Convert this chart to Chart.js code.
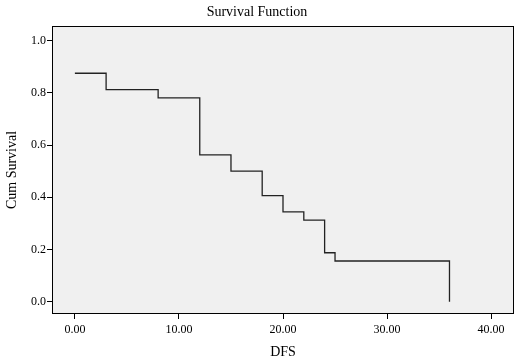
<!DOCTYPE html>
<html>
<head>
<meta charset="utf-8">
<script src="https://cdn.jsdelivr.net/npm/chart.js@4.4.1/dist/chart.umd.min.js"></script>
<style>
  html, body { margin: 0; padding: 0; background: #fff; }
  canvas { display: block; }
</style>
</head>
<body>
<canvas id="survivalChart" width="519" height="361"></canvas>
<script>
// Kaplan-Meier steps
const dfsTimes = [0, 3, 8, 12, 15, 18, 20, 22, 24, 25, 36];
const cumSurvival = [0.875, 0.8125, 0.781, 0.5625, 0.50, 0.406, 0.344, 0.3125, 0.1875, 0.156, 0.0];
const xTicks = [0, 10, 20, 30, 40];
const yTicks = [0, 0.2, 0.4, 0.6, 0.8, 1.0];

const serif = 'Liberation Serif';

// grey plot area and its frame
const plotFrame = {
  id: 'plotFrame',
  beforeDatasetsDraw(chart) {
    const { ctx, chartArea: a } = chart;
    ctx.save();
    ctx.fillStyle = '#f0f0f0';
    ctx.fillRect(a.left, a.top, a.right - a.left, a.bottom - a.top);
    ctx.restore();
  },
  afterDraw(chart) {
    const { ctx, chartArea: a } = chart;
    ctx.save();
    ctx.strokeStyle = '#000';
    ctx.lineWidth = 1;
    ctx.strokeRect(a.left + 0.5, a.top + 0.5, a.right - a.left - 1, a.bottom - a.top - 1);
    ctx.restore();
  }
};

const points = dfsTimes.map((t, i) => ({ x: t, y: cumSurvival[i] }));

new Chart(document.getElementById('survivalChart').getContext('2d'), {
  type: 'line',
  data: {
    datasets: [{
      data: points,
      stepped: true,
      borderColor: '#222',
      borderWidth: 1.3,
      pointRadius: 0,
      fill: false
    }]
  },
  options: {
    responsive: false,
    animation: false,
    layout: { padding: { left: 0, top: 0, right: 5, bottom: 0 } },
    plugins: {
      legend: { display: false },
      tooltip: { enabled: false },
      title: {
        display: true,
        text: 'Survival Function',
        color: '#000',
        font: { family: serif, size: 14, weight: 'normal' },
        padding: { top: 4, bottom: 5.2 }
      }
    },
    scales: {
      x: {
        type: 'linear',
        min: -2.2,
        max: 42.2,
        afterFit(scale) { scale.height = 47; },
        afterBuildTicks(scale) { scale.ticks = xTicks.map(v => ({ value: v })); },
        ticks: {
          includeBounds: false,
          padding: 4,
          color: '#000',
          font: { family: serif, size: 12 },
          callback: v => v.toFixed(2),
          maxRotation: 0
        },
        grid: { drawOnChartArea: false, drawTicks: true, tickLength: 5, color: '#000' },
        border: { display: false },
        title: {
          display: true,
          text: 'DFS',
          color: '#000',
          font: { family: serif, size: 14 },
          padding: { top: 0, bottom: 0.6 }
        }
      },
      y: {
        type: 'linear',
        min: -0.047,
        max: 1.056,
        afterFit(scale) { scale.width = 52; },
        afterBuildTicks(scale) { scale.ticks = yTicks.map(v => ({ value: v })); },
        ticks: {
          includeBounds: false,
          padding: 1,
          color: '#000',
          font: { family: serif, size: 12 },
          callback: v => v.toFixed(1)
        },
        grid: { drawOnChartArea: false, drawTicks: true, tickLength: 5, color: '#000' },
        border: { display: false },
        title: {
          display: true,
          text: 'Cum Survival',
          color: '#000',
          font: { family: serif, size: 14 },
          padding: { top: 4, bottom: 0 }
        }
      }
    }
  },
  plugins: [plotFrame]
});
</script>
</body>
</html>
